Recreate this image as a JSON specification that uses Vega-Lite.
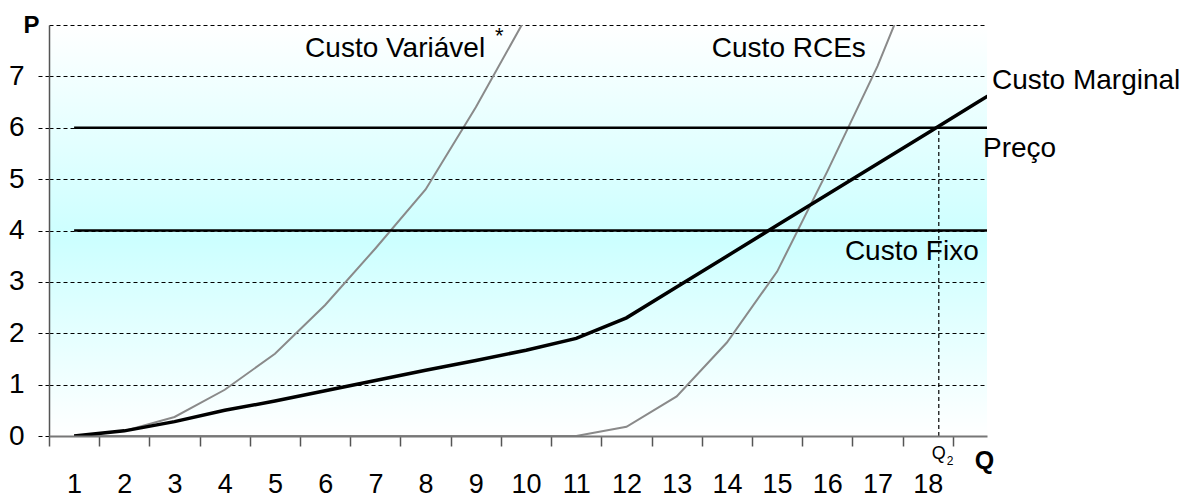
{
  "$schema": "https://vega.github.io/schema/vega-lite/v6.json",
  "width": 938,
  "height": 411,
  "autosize": {"type": "none"},
  "padding": {"left": 49, "top": 25, "right": 211, "bottom": 62},
  "background": "white",
  "config": {
    "view": {
      "fill": {"gradient": "linear", "x1": 0, "y1": 0, "x2": 0, "y2": 1,
        "stops": [{"offset": 0, "color": "#ffffff"}, {"offset": 0.52, "color": "#ccffff"}, {"offset": 1, "color": "#ffffff"}]},
      "stroke": null
    },
    "font": "Liberation Sans"
  },
  "datasets": {
    "curves": [
      {"series": "Custo Marginal", "q": 1, "v": 0},
      {"series": "Custo Marginal", "q": 2, "v": 0.1},
      {"series": "Custo Marginal", "q": 3, "v": 0.28},
      {"series": "Custo Marginal", "q": 4, "v": 0.5},
      {"series": "Custo Marginal", "q": 5, "v": 0.68},
      {"series": "Custo Marginal", "q": 6, "v": 0.88},
      {"series": "Custo Marginal", "q": 7, "v": 1.08},
      {"series": "Custo Marginal", "q": 8, "v": 1.28},
      {"series": "Custo Marginal", "q": 9, "v": 1.47},
      {"series": "Custo Marginal", "q": 10, "v": 1.67},
      {"series": "Custo Marginal", "q": 11, "v": 1.9},
      {"series": "Custo Marginal", "q": 12, "v": 2.3},
      {"series": "Custo Marginal", "q": 13, "v": 2.9},
      {"series": "Custo Marginal", "q": 14, "v": 3.5},
      {"series": "Custo Marginal", "q": 15, "v": 4.1},
      {"series": "Custo Marginal", "q": 16, "v": 4.7},
      {"series": "Custo Marginal", "q": 17, "v": 5.3},
      {"series": "Custo Marginal", "q": 18, "v": 5.9},
      {"series": "Custo Marginal", "q": 19, "v": 6.5},
      {"series": "Custo Marginal", "q": 20, "v": 7.1},
      {"series": "Custo Variável", "q": 1, "v": 0},
      {"series": "Custo Variável", "q": 2, "v": 0.1},
      {"series": "Custo Variável", "q": 3, "v": 0.37},
      {"series": "Custo Variável", "q": 4, "v": 0.9},
      {"series": "Custo Variável", "q": 5, "v": 1.6},
      {"series": "Custo Variável", "q": 6, "v": 2.55},
      {"series": "Custo Variável", "q": 7, "v": 3.65},
      {"series": "Custo Variável", "q": 8, "v": 4.8},
      {"series": "Custo Variável", "q": 9, "v": 6.4},
      {"series": "Custo Variável", "q": 10, "v": 8.15},
      {"series": "Custo RCEs", "q": 1, "v": 0},
      {"series": "Custo RCEs", "q": 2, "v": 0},
      {"series": "Custo RCEs", "q": 3, "v": 0},
      {"series": "Custo RCEs", "q": 4, "v": 0},
      {"series": "Custo RCEs", "q": 5, "v": 0},
      {"series": "Custo RCEs", "q": 6, "v": 0},
      {"series": "Custo RCEs", "q": 7, "v": 0},
      {"series": "Custo RCEs", "q": 8, "v": 0},
      {"series": "Custo RCEs", "q": 9, "v": 0},
      {"series": "Custo RCEs", "q": 10, "v": 0},
      {"series": "Custo RCEs", "q": 11, "v": 0},
      {"series": "Custo RCEs", "q": 12, "v": 0.18},
      {"series": "Custo RCEs", "q": 13, "v": 0.77},
      {"series": "Custo RCEs", "q": 14, "v": 1.82},
      {"series": "Custo RCEs", "q": 15, "v": 3.2},
      {"series": "Custo RCEs", "q": 16, "v": 5.15},
      {"series": "Custo RCEs", "q": 17, "v": 7.2},
      {"series": "Custo RCEs", "q": 18, "v": 9.6},
      {"series": "Preço", "q": 1, "v": 6},
      {"series": "Preço", "q": 20, "v": 6},
      {"series": "Custo Fixo", "q": 1, "v": 4},
      {"series": "Custo Fixo", "q": 20, "v": 4}
    ],
    "q2line": [{"q": 18.22, "v": 0, "v2": 6}],
    "labels": [
      {"text": "Custo Variável", "q": 5.6, "v": 7.38},
      {"text": "Custo RCEs", "q": 13.7, "v": 7.38},
      {"text": "Custo Marginal", "q": 19.28, "v": 6.75},
      {"text": "Preço", "q": 19.1, "v": 5.43},
      {"text": "Custo Fixo", "q": 16.35, "v": 3.42}
    ],
    "star": [{"text": "*", "q": 9.38, "v": 7.65}],
    "qsub": [{"text": "Q", "q": 18.08, "v": -0.45}],
    "sub2": [{"text": "2", "q": 18.38, "v": -0.56}]
  },
  "encoding": {
    "x": {
      "field": "q", "type": "quantitative",
      "scale": {"domain": [0.5, 19.18], "nice": false, "zero": false},
      "axis": {
        "values": [0.5, 1, 1.5, 2, 2.5, 3, 3.5, 4, 4.5, 5, 5.5, 6, 6.5, 7, 7.5, 8, 8.5, 9, 9.5, 10, 10.5, 11, 11.5, 12, 12.5, 13, 13.5, 14, 14.5, 15, 15.5, 16, 16.5, 17, 17.5, 18, 18.5],
        "title": "Q", "titleX": 935, "titleY": 32, "titleAlign": "center", "titleBaseline": "alphabetic",
        "titleFontSize": 25, "titleFontWeight": "bold", "titleColor": "black", "titleFont": "Liberation Sans",
        "labelExpr": "datum.value % 1 == 0 ? format(datum.value, 'd') : ''",
        "labelFontSize": 27, "labelColor": "black", "labelPadding": 25, "labelFont": "Liberation Sans",
        "labelOverlap": false, "labelFlush": false, "labelBound": false,
        "tickSize": 10, "tickColor": "#555555", "tickWidth": 1.5,
        "tickOpacity": {"condition": {"test": "datum.value % 1 == 0", "value": 0}, "value": 1},
        "domainColor": "#777777", "domainWidth": 2, "grid": false, "zindex": 1
      }
    },
    "y": {
      "field": "v", "type": "quantitative",
      "scale": {"domain": [0, 8], "nice": false},
      "axis": {
        "values": [0, 1, 2, 3, 4, 5, 6, 7, 8],
        "title": "P", "titleAngle": 0, "titleX": -18, "titleY": 7, "titleAlign": "center", "titleBaseline": "alphabetic",
        "titleFontSize": 24, "titleFontWeight": "bold", "titleColor": "black", "titleFont": "Liberation Sans",
        "labelExpr": "datum.value == 8 ? '' : format(datum.value, 'd')",
        "labelFontSize": 28, "labelColor": "black", "labelPadding": 14, "labelFont": "Liberation Sans",
        "tickSize": 11, "tickColor": "black", "tickDash": [4, 3],
        "tickOpacity": {"condition": {"test": "datum.value == 8", "value": 0}, "value": 1},
        "grid": true, "gridColor": "black", "gridDash": [4, 3], "gridWidth": 1, "gridOpacity": 1,
        "domainColor": "#555555", "domainWidth": 1.5
      }
    }
  },
  "layer": [
    {
      "data": {"name": "curves"},
      "transform": [{"filter": "datum.series == 'Custo Variável' || datum.series == 'Custo RCEs'"}],
      "mark": {"type": "line", "color": "#8a8a8a", "strokeWidth": 2, "clip": true},
      "encoding": {"detail": {"field": "series"}}
    },
    {
      "data": {"name": "curves"},
      "transform": [{"filter": "datum.series == 'Preço' || datum.series == 'Custo Fixo'"}],
      "mark": {"type": "line", "color": "black", "strokeWidth": 2.5, "clip": true},
      "encoding": {"detail": {"field": "series"}}
    },
    {
      "data": {"name": "curves"},
      "transform": [{"filter": "datum.series == 'Custo Marginal'"}],
      "mark": {"type": "line", "color": "black", "strokeWidth": 3.5, "clip": true},
      "encoding": {"detail": {"field": "series"}}
    },
    {
      "data": {"name": "q2line"},
      "mark": {"type": "rule", "color": "black", "strokeWidth": 1.2, "strokeDash": [4, 3]},
      "encoding": {"y2": {"field": "v2"}}
    },
    {
      "data": {"name": "labels"},
      "mark": {"type": "text", "align": "left", "baseline": "alphabetic", "fontSize": 28, "color": "black", "font": "Liberation Sans"},
      "encoding": {"text": {"field": "text"}}
    },
    {
      "data": {"name": "star"},
      "mark": {"type": "text", "align": "left", "baseline": "alphabetic", "fontSize": 22, "color": "black", "font": "Liberation Sans"},
      "encoding": {"text": {"field": "text"}}
    },
    {
      "data": {"name": "qsub"},
      "mark": {"type": "text", "align": "left", "baseline": "alphabetic", "fontSize": 18, "color": "black", "font": "Liberation Sans"},
      "encoding": {"text": {"field": "text"}}
    },
    {
      "data": {"name": "sub2"},
      "mark": {"type": "text", "align": "left", "baseline": "alphabetic", "fontSize": 12, "color": "black", "font": "Liberation Sans"},
      "encoding": {"text": {"field": "text"}}
    }
  ]
}
